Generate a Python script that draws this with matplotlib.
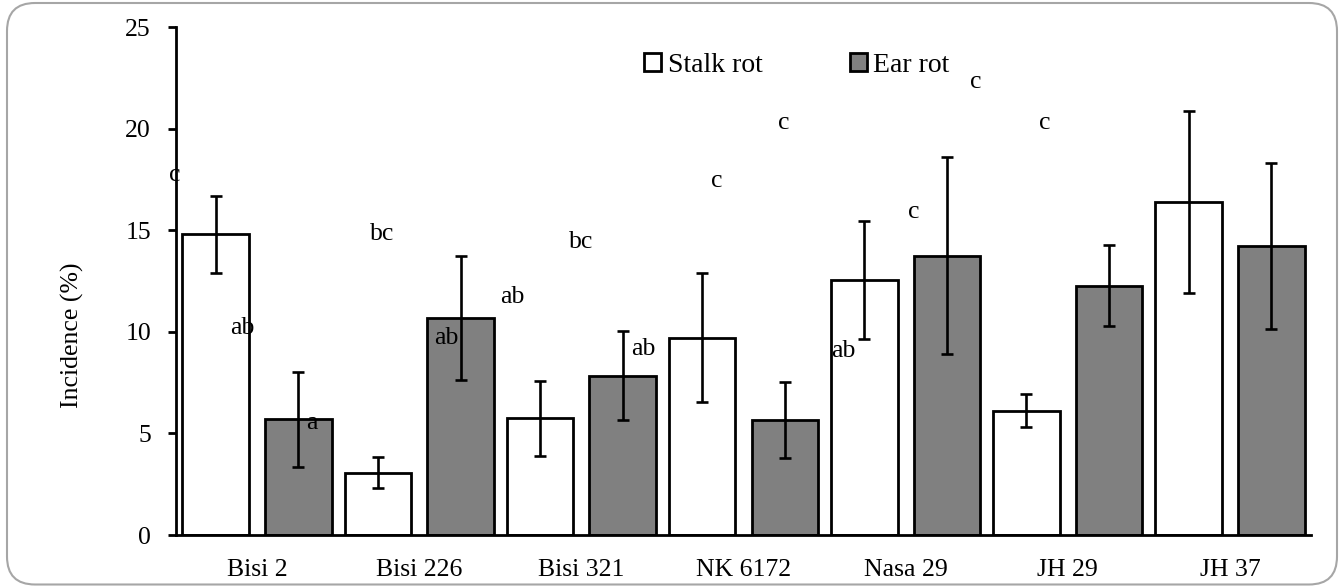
import matplotlib
matplotlib.use('Agg')
import matplotlib.pyplot as plt
import numpy as np
from matplotlib.patches import FancyBboxPatch, Patch

plt.rcParams['font.family'] = ['Liberation Serif', 'DejaVu Serif']

# data
varieties = ['Bisi 2', 'Bisi 226', 'Bisi 321', 'NK 6172', 'Nasa 29', 'JH 29', 'JH 37']
stalk_rot = [14.8, 3.07, 5.74, 9.71, 12.55, 6.12, 16.4]
stalk_err = [1.9, 0.75, 1.84, 3.16, 2.9, 0.82, 4.47]
ear_rot = [5.69, 10.66, 7.84, 5.66, 13.75, 12.27, 14.24]
ear_err = [2.33, 3.05, 2.19, 1.85, 4.83, 1.98, 4.08]

# significance letters as they sit in the picture (x in group units, y in %)
letters = ['c', 'bc', 'ab', 'a', 'bc', 'ab', 'ab', 'ab', 'c', 'c', 'ab', 'c', 'c', 'c']
letter_x = [-0.506, 0.771, -0.093, 0.339, 2.0, 1.166, 1.573, 2.381, 2.838, 3.251, 3.615, 4.047, 4.434, 4.861]
letter_y = [17.7, 14.8, 10.2, 5.5, 14.4, 9.7, 11.7, 9.15, 17.4, 20.3, 9.05, 15.9, 22.3, 20.27]

x = np.arange(len(varieties))
w = 0.41
off = 0.255

fig = plt.figure(figsize=(13.44, 5.86), dpi=100)
ax = fig.add_axes([176/1344, 51/586, 1135/1344, 508/586])

ek = dict(ecolor='black', elinewidth=1.9, capsize=4, capthick=1.9)
ax.bar(x - off, stalk_rot, w, color='white', edgecolor='black', linewidth=2.0,
       yerr=stalk_err, error_kw=ek, zorder=2)
ax.bar(x + off, ear_rot, w, color='#808080', edgecolor='black', linewidth=2.0,
       yerr=ear_err, error_kw=ek, zorder=2)

for t, lx, ly in zip(letters, letter_x, letter_y):
    ax.text(lx, ly, t, ha='center', va='center', fontsize=18.5, zorder=3)

ax.set_xlim(-0.5, 6.5)
ax.set_ylim(0, 25)
ax.set_yticks(np.arange(0, 26, 5))
ax.set_xticks(x)
ax.set_xticklabels(varieties)
ax.tick_params(axis='y', length=6, width=2.0, labelsize=18.5, pad=12)
ax.tick_params(axis='x', length=0, labelsize=18.5, pad=17)
for s in ['top', 'right']:
    ax.spines[s].set_visible(False)
for s in ['left', 'bottom']:
    ax.spines[s].set_linewidth(2.0)

fig.text(72/1344, 1 - 335/586, 'Incidence (%)', rotation=90, ha='center', va='center', fontsize=18.5)

handles = [Patch(facecolor='white', edgecolor='black', linewidth=2.0, label='Stalk rot'),
           Patch(facecolor='#808080', edgecolor='black', linewidth=2.0, label='Ear rot')]
ax.legend(handles=handles, loc='center', bbox_to_anchor=(0.547, 0.925), ncol=2, frameon=False,
          fontsize=20, handlelength=0.6, handleheight=0.6, handletextpad=0.25, columnspacing=3.15)

box = FancyBboxPatch((0.07, 0.015), 13.3, 5.815, boxstyle='round,pad=0,rounding_size=0.28',
                     transform=fig.dpi_scale_trans, facecolor='none', edgecolor='#a6a6a6',
                     linewidth=1.5)
fig.patches.append(box)

fig.savefig('out.png', dpi=100)
